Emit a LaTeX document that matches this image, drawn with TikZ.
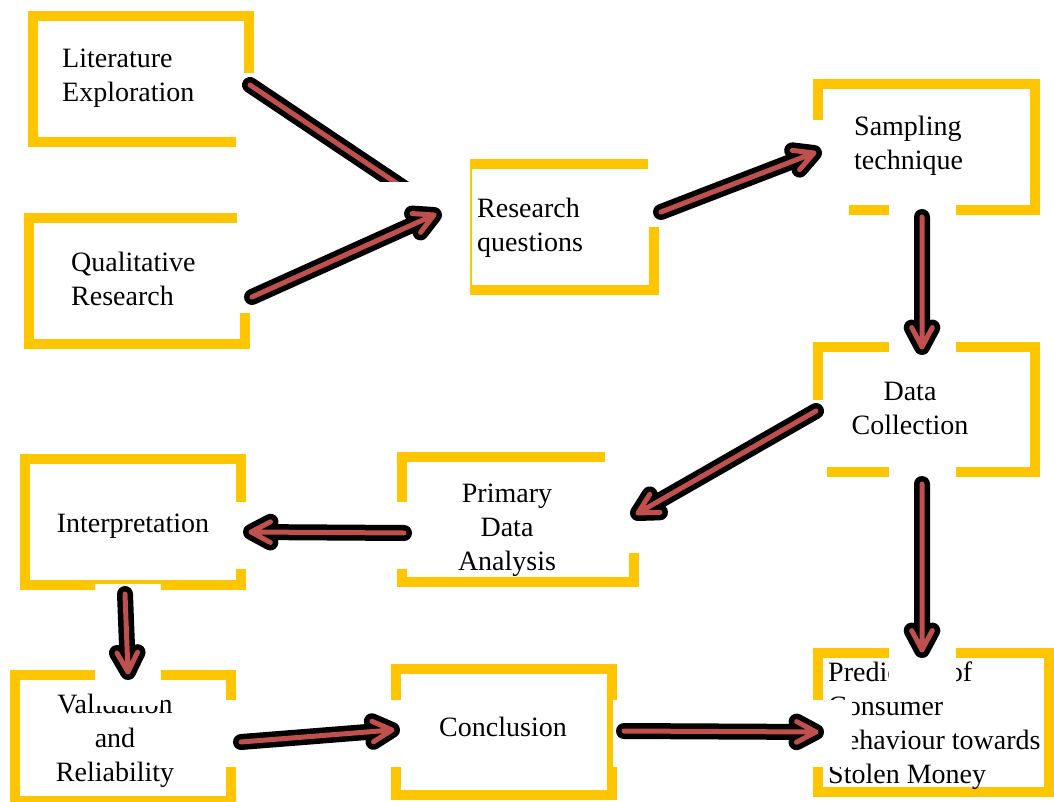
\documentclass[tikz,border=0pt]{standalone}
\usepackage{fontspec}
\setmainfont{Liberation Serif}
\usetikzlibrary{calc}
\definecolor{boxgold}{RGB}{255,198,0}
\definecolor{arrowred}{RGB}{192,80,77}
\tikzset{
  stagebox/.style={draw=boxgold, line width=10pt, rectangle, inner sep=0pt},
  stagetext/.style={inner sep=0pt, text=black, font=\fontsize{28}{34}\selectfont},
  gap/.style={fill=white, draw=none},
  flowshadow/.style={draw=black, line width=16pt, line cap=round, line join=round, xshift=1pt, yshift=-2.5pt},
  flowred/.style={draw=arrowred, line width=5pt, line cap=round, line join=round}
}
% thick red arrow with a black outline and an open chevron head
\newcommand\flowarrow[2]{%
  \draw[flowshadow] (#1) -- (#2) ($(#2)!22pt!28:(#1)$) -- (#2) -- ($(#2)!22pt!-28:(#1)$);
  \draw[flowred] (#1) -- (#2) ($(#2)!22pt!28:(#1)$) -- (#2) -- ($(#2)!22pt!-28:(#1)$);}
\begin{document}
\begin{tikzpicture}[x=1pt,y=-1pt]
\useasboundingbox (0,0) rectangle (1054,802);
\fill[white] (0,0) rectangle (1054,802);

% stage frames
\node[stagebox, minimum width=216pt, minimum height=126pt] (lit)    at (141,79) {};
\node[stagebox, minimum width=216pt, minimum height=126pt] (qual)   at (137,281) {};
\node[stagebox, minimum width=187pt, minimum height=126pt] (rq)     at (560.5,227) {};
\node[stagebox, minimum width=217pt, minimum height=126pt] (samp)   at (926.5,147) {};
\node[stagebox, minimum width=217pt, minimum height=125pt] (data)   at (926.5,409.5) {};
\node[stagebox, minimum width=232pt, minimum height=125pt] (prim)   at (518,519.5) {};
\node[stagebox, minimum width=216pt, minimum height=126pt] (interp) at (133,522) {};
\node[stagebox, minimum width=216pt, minimum height=126pt] (val)    at (123,738) {};
\node[stagebox, minimum width=216pt, minimum height=126pt] (conc)   at (504,732) {};
\node[stagebox, minimum width=231pt, minimum height=139pt] (pred)   at (933.5,722.5) {};

% stage labels
\node[stagetext, anchor=west, align=left] (litT)  at (62,78)  {Literature\\Exploration};
\node[stagetext, anchor=west, align=left] (qualT) at (71,279) {Qualitative\\Research};
\node[stagetext, anchor=west, align=left] (rqT)   at (477,228) {Research\\questions};
\node[stagetext, anchor=west, align=left] (sampT) at (854,146) {Sampling\\technique};
\node[stagetext, align=center] (dataT)   at (910,408) {Data\\Collection};
\node[stagetext, align=center] (primT)   at (507,530) {Primary\\Data\\Analysis};
\node[stagetext] (interpT) at (133,526) {Interpretation};
\node[stagetext, align=center] (valT)    at (115,741) {Validation\\and\\Reliability};
\node[stagetext] (concT)   at (503,727) {Conclusion};
\node[stagetext, anchor=west, align=left] (predT) at (828,726) {Predictors of\\Consumer\\Behaviour towards\\Stolen Money};

% white cut-outs in the frames
\fill[gap] (236,73) rectangle (262,152);
\fill[gap] (237,203) rectangle (262,313);
\fill[gap] (450,150) rectangle (470,300);
\fill[gap] (648,150) rectangle (668,227);
\fill[gap] (803,120) rectangle (849,222);
\fill[gap] (889,203) rectangle (956,354);
\fill[gap] (803,400) rectangle (827,485);
\fill[gap] (889,465) rectangle (956,690);
\fill[gap] (236,502) rectangle (256,569);
\fill[gap] (95,584) rectangle (161,706);
\fill[gap] (605,445) rectangle (648,553);
\fill[gap] (388,502) rectangle (408,569);
\fill[gap] (226,700) rectangle (244,767);
\fill[gap] (384,700) rectangle (401,767);
\fill[gap] (613,700) rectangle (628,767);
\fill[gap] (803,700) rectangle (852,767);

% connector end points
\coordinate (a1s) at (250,85);   \coordinate (a1e) at (432,207);
\coordinate (a2s) at (252,297);  \coordinate (a2e) at (434,215);
\coordinate (a3s) at (661,212);  \coordinate (a3e) at (814,153);
\coordinate (a4s) at (922,217);  \coordinate (a4e) at (922,347);
\coordinate (a5s) at (816,411);  \coordinate (a5e) at (638,513);
\coordinate (a6s) at (922,484);  \coordinate (a6e) at (922,650);
\coordinate (a7s) at (404,533);  \coordinate (a7e) at (251,532);
\coordinate (a8s) at (125,594);  \coordinate (a8e) at (128,672);
\coordinate (a9s) at (241,742);  \coordinate (a9e) at (392,730);
\coordinate (a10s) at (624,731); \coordinate (a10e) at (816,732);

% connectors; the first one is cut off where it meets the question box
\begin{scope}
  \clip (0,0) rectangle (1054,182);
  \draw[flowshadow] (a1s) -- (a1e);
  \draw[flowred] (a1s) -- (a1e);
\end{scope}
\flowarrow{a2s}{a2e}
\flowarrow{a3s}{a3e}
\flowarrow{a4s}{a4e}
\flowarrow{a5s}{a5e}
\flowarrow{a6s}{a6e}
\flowarrow{a7s}{a7e}
\flowarrow{a8s}{a8e}
\flowarrow{a9s}{a9e}
\flowarrow{a10s}{a10e}
\end{tikzpicture}
\end{document}
